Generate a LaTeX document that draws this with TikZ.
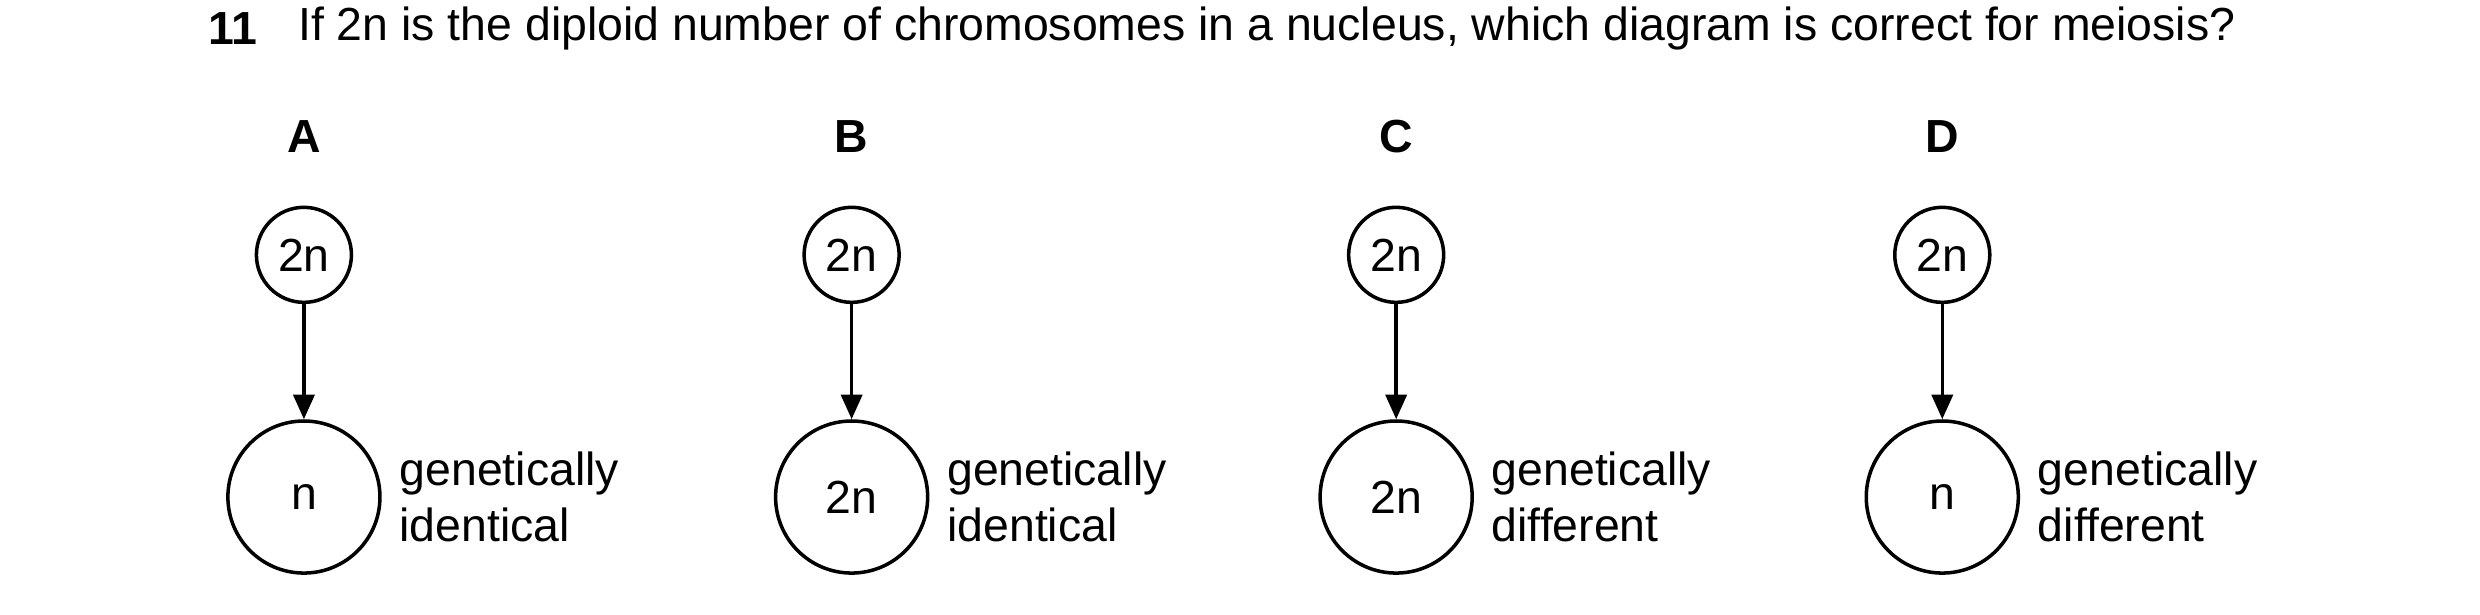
\documentclass[tikz,border=0pt]{standalone}
\usepackage{fontspec}
\setmainfont{Liberation Sans}
\usetikzlibrary{arrows.meta}
\begin{document}
\begin{tikzpicture}[x=0.01583cm,y=-0.01583cm,
  txt/.style={font=\fontsize{13.2pt}{15.8pt}\selectfont,inner sep=0pt},
  small/.style={circle,draw,line width=1pt,minimum size=0.95cm,inner sep=0pt,txt},
  big/.style={circle,draw,line width=1pt,minimum size=1.52cm,inner sep=0pt,txt},
  lab/.style={txt,anchor=west,align=left},
  hdr/.style={txt,font=\fontsize{13.2pt}{15.8pt}\selectfont\bfseries},
  arr/.style={line width=1pt,-{Triangle[length=7pt,width=6pt]}}]
\useasboundingbox (0,0) rectangle (1566.7,387.9);
\node[hdr,anchor=west] (num) at (131,18) {11};
\node[txt,anchor=west] (q) at (188,18) {If 2n is the diploid number of chromosomes in a nucleus, which diagram is correct for meiosis?};
\foreach \x/\L/\top/\bot/\la/\lb [count=\i] in {192/A/2n/n/genetically/identical,538/B/2n/2n/genetically/identical,882/C/2n/2n/genetically/different,1227/D/2n/n/genetically/different}{
  \node[hdr] (h\i) at (\x,86) {\L};
  \node[small] (s\i) at (\x,161) {\top};
  \node[big] (b\i) at (\x,314) {\bot};
  \draw[arr] (s\i) -- (b\i);
  \node[lab] (l\i) at (\x+60,314) {\la\\\lb};
}
\end{tikzpicture}
\end{document}
